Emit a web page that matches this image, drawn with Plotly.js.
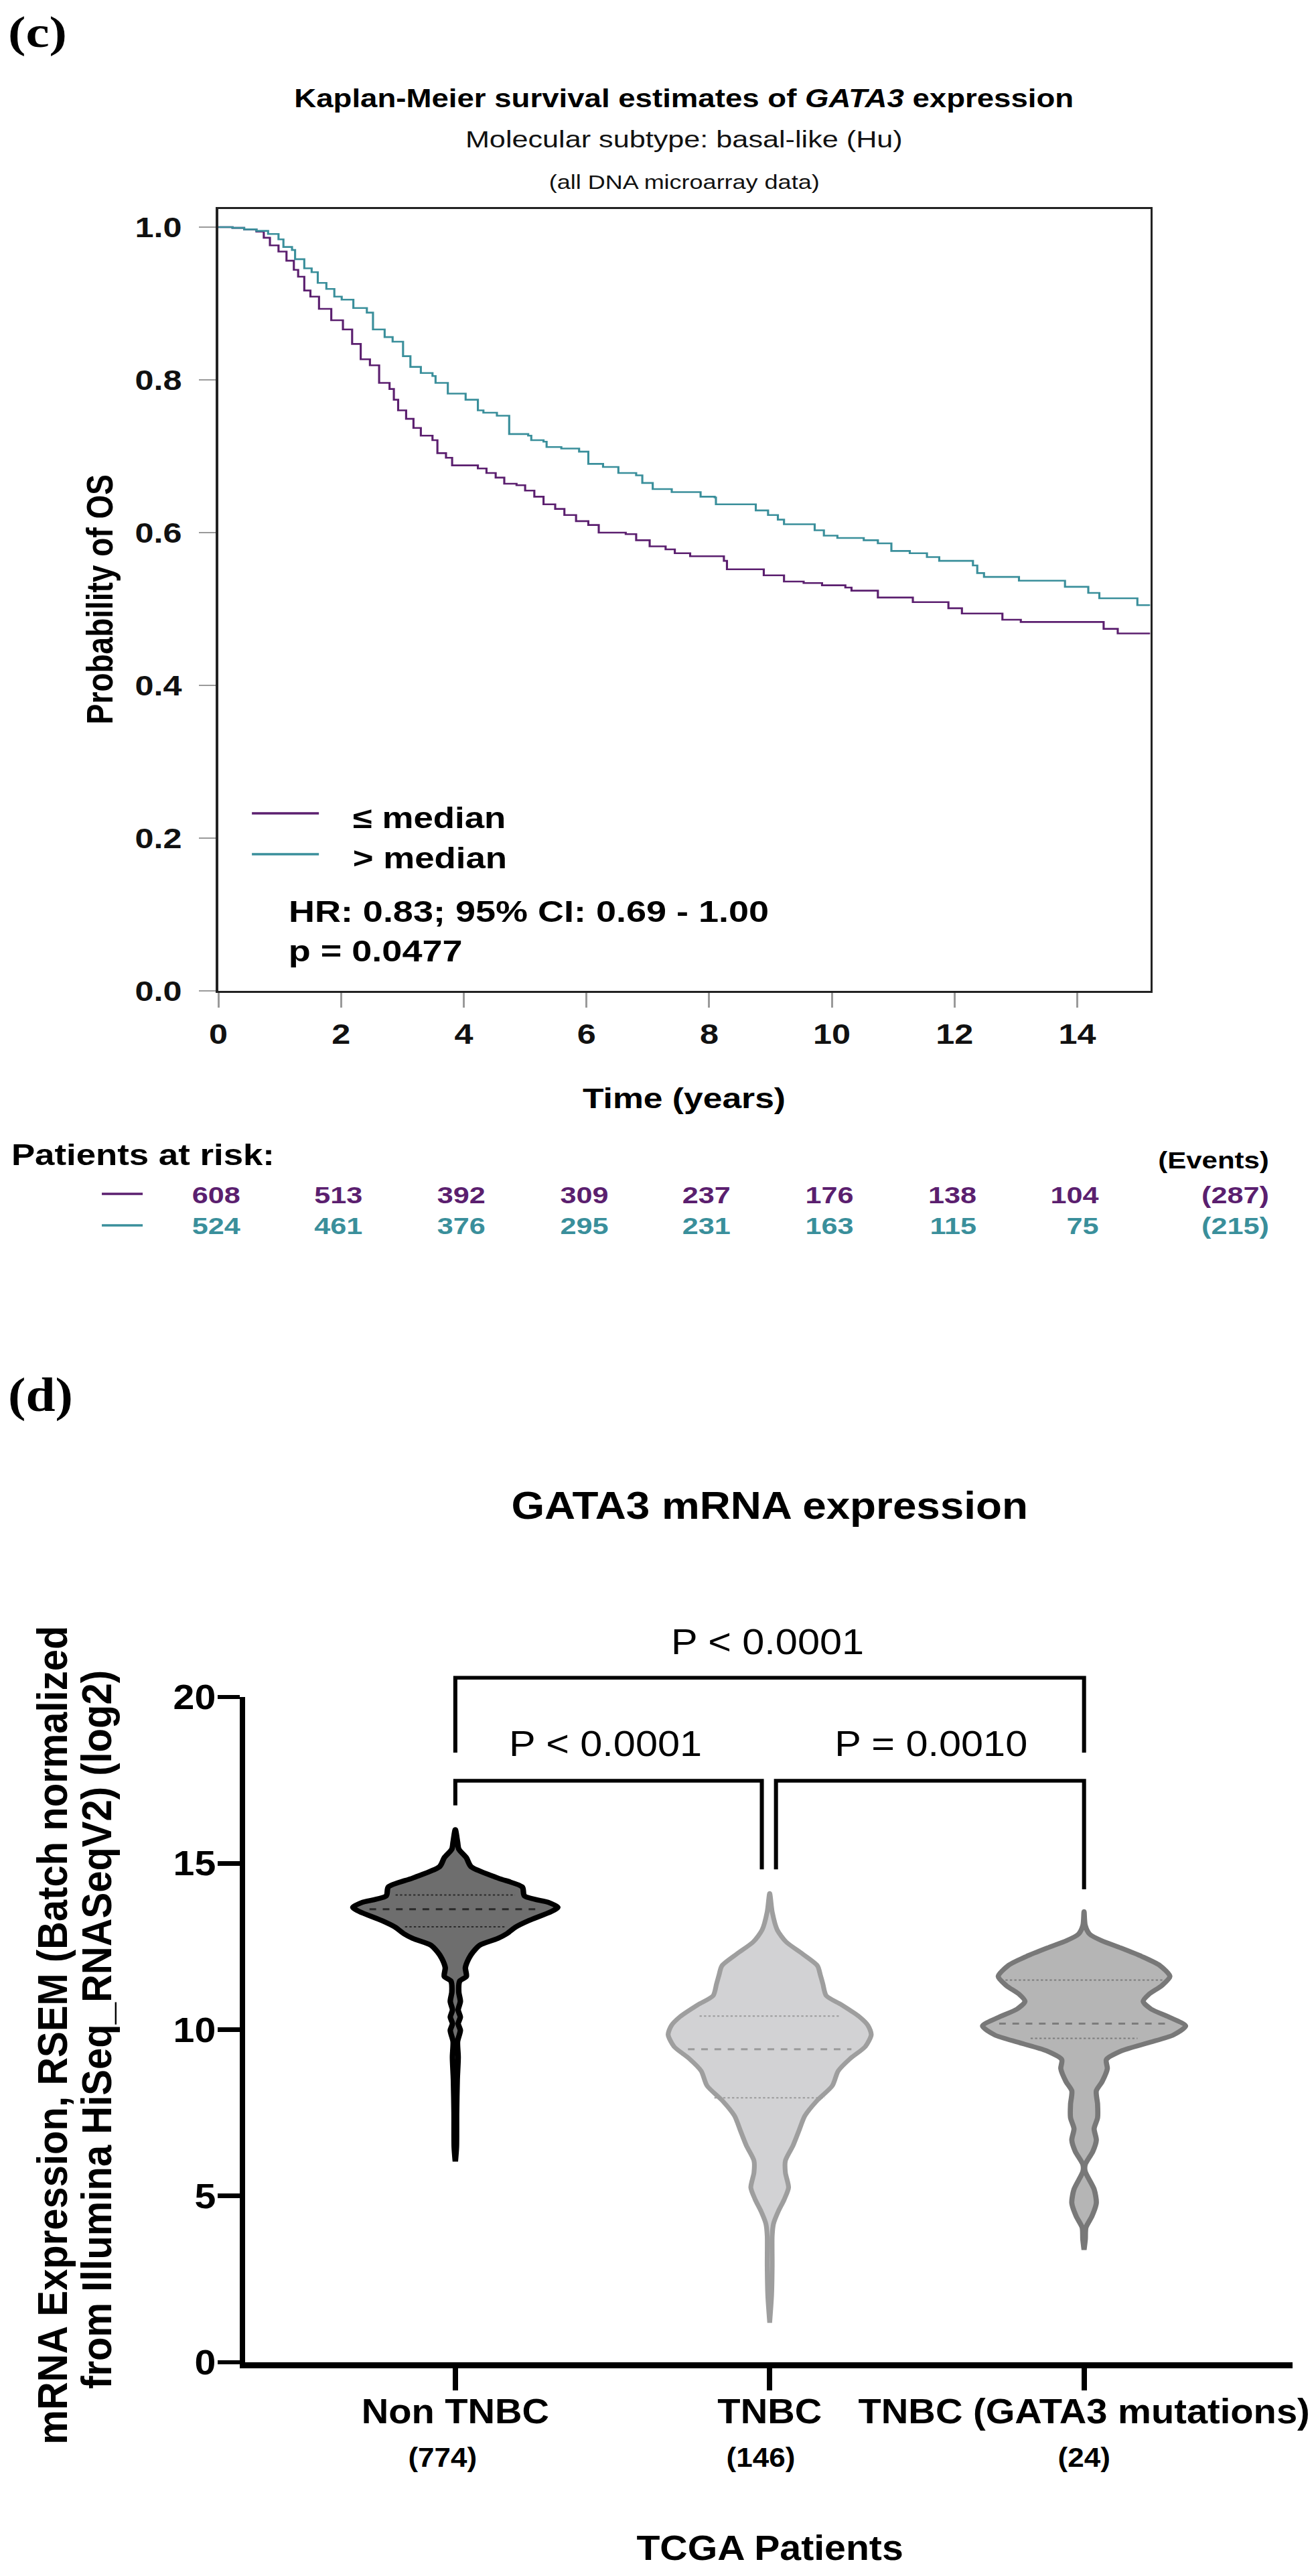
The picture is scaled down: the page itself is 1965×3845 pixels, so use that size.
<!DOCTYPE html>
<html><head><meta charset="utf-8">
<script src="https://cdn.plot.ly/plotly-3.0.1.min.js"></script>
<style>
html,body{margin:0;padding:0;background:#fff;overflow:hidden;width:1965px;height:3845px;position:relative;}
#km{position:absolute;left:0;top:0;width:1637.5px;height:1960px;transform:scale(1.2,1);transform-origin:0 0;}
#vio{position:absolute;left:0;top:1960px;width:1786.4px;height:1885px;transform:scale(1.1,1);transform-origin:0 0;}
</style></head>
<body><div id="km"></div><div id="vio"></div>
<script>
// ---------- Panel (c): Kaplan-Meier data ----------
const kmLowT = [0, 0.23, 0.42, 0.62, 0.74, 0.84, 0.98, 1.11, 1.23, 1.30, 1.40, 1.50, 1.64, 1.84, 2.03, 2.18, 2.32, 2.47, 2.62, 2.79, 2.86, 2.93, 3.06, 3.18, 3.30, 3.49, 3.57, 3.71, 3.81, 4.23, 4.37, 4.52, 4.66, 4.86, 5.00, 5.15, 5.30, 5.49, 5.64, 5.83, 6.03, 6.20, 6.64, 6.81, 7.03, 7.29, 7.44, 7.69, 8.24, 8.29, 8.89, 9.22, 9.54, 9.84, 10.22, 10.32, 10.75, 11.32, 11.90, 12.12, 12.78, 13.08, 14.43, 14.66, 15.19];
const kmLowS = [1.0, 0.999, 0.997, 0.994, 0.986, 0.976, 0.968, 0.956, 0.944, 0.935, 0.917, 0.909, 0.893, 0.878, 0.866, 0.847, 0.827, 0.819, 0.796, 0.788, 0.774, 0.760, 0.749, 0.737, 0.727, 0.721, 0.704, 0.698, 0.688, 0.684, 0.678, 0.672, 0.664, 0.662, 0.655, 0.647, 0.637, 0.631, 0.623, 0.615, 0.610, 0.600, 0.598, 0.590, 0.582, 0.578, 0.573, 0.569, 0.563, 0.552, 0.544, 0.536, 0.534, 0.531, 0.528, 0.524, 0.515, 0.509, 0.501, 0.494, 0.486, 0.483, 0.474, 0.468, 0.468];
const kmHighT = [0, 0.23, 0.42, 0.62, 0.81, 0.98, 1.06, 1.20, 1.25, 1.40, 1.52, 1.62, 1.76, 1.89, 2.01, 2.20, 2.42, 2.52, 2.71, 2.84, 3.01, 3.13, 3.30, 3.49, 3.54, 3.74, 4.03, 4.23, 4.32, 4.54, 4.74, 5.05, 5.10, 5.30, 5.35, 5.59, 5.88, 6.03, 6.27, 6.52, 6.81, 6.91, 7.08, 7.39, 7.86, 8.09, 8.11, 8.76, 8.96, 9.12, 9.22, 9.72, 9.87, 10.09, 10.52, 10.75, 10.97, 11.27, 11.55, 11.75, 12.30, 12.37, 12.48, 13.05, 13.80, 14.18, 14.36, 14.98, 15.19];
const kmHighS = [1.0, 0.999, 0.997, 0.995, 0.991, 0.984, 0.974, 0.970, 0.958, 0.946, 0.941, 0.927, 0.919, 0.909, 0.905, 0.894, 0.888, 0.866, 0.856, 0.850, 0.831, 0.817, 0.809, 0.805, 0.796, 0.782, 0.774, 0.760, 0.757, 0.753, 0.729, 0.727, 0.721, 0.719, 0.712, 0.710, 0.706, 0.690, 0.686, 0.678, 0.675, 0.665, 0.657, 0.653, 0.647, 0.646, 0.637, 0.629, 0.623, 0.617, 0.611, 0.603, 0.596, 0.593, 0.590, 0.586, 0.576, 0.573, 0.568, 0.563, 0.557, 0.547, 0.542, 0.537, 0.529, 0.521, 0.514, 0.505, 0.505];
const groupNames = ['\u2264 median', '> median'];
const kmTicks = [0, 2, 4, 6, 8, 10, 12, 14];
const kmYTicks = [0, 0.2, 0.4, 0.6, 0.8, 1.0];
const riskTimes = [0, 2, 4, 6, 8, 10, 12, 14];
const riskLow = [608, 513, 392, 309, 237, 176, 138, 104];
const riskHigh = [524, 461, 376, 295, 231, 163, 115, 75];
const eventsLow = 287;
const eventsHigh = 215;

// ---------- Panel (d): violin profiles (value, half-width) ----------
const categories = ['Non TNBC', 'TNBC', 'TNBC (GATA3 mutations)'];
const counts = [774, 146, 24];
const vYNon = [16.01, 15.64, 15.43, 15.17, 14.90, 14.56, 14.29, 14.02, 13.82, 13.68, 13.55, 13.28, 13.08, 12.88, 12.74, 12.54, 12.34, 12.14, 11.86, 11.60, 11.46, 11.13, 10.85, 10.59, 10.38, 10.18, 9.98, 9.64, 9.17, 8.50, 7.49, 6.48, 6.04];
const vWNon = [0, 0.007, 0.011, 0.035, 0.050, 0.135, 0.213, 0.220, 0.298, 0.326, 0.305, 0.234, 0.191, 0.163, 0.135, 0.078, 0.057, 0.043, 0.032, 0.035, 0.014, 0.011, 0.016, 0.009, 0.016, 0.009, 0.016, 0.007, 0.009, 0.006, 0.004, 0.0035, 0];
const vYTn = [14.10, 13.54, 13.00, 12.64, 12.28, 11.92, 11.65, 11.38, 11.02, 10.75, 10.39, 10.12, 9.85, 9.49, 9.13, 8.76, 8.31, 7.86, 7.41, 6.96, 6.51, 6.06, 5.70, 5.25, 4.89, 4.53, 4.16, 3.80, 2.90, 2.00, 1.19];
const vWTn = [0, 0.008, 0.024, 0.052, 0.104, 0.152, 0.161, 0.169, 0.180, 0.228, 0.285, 0.313, 0.323, 0.304, 0.256, 0.218, 0.199, 0.150, 0.112, 0.093, 0.074, 0.050, 0.050, 0.060, 0.046, 0.027, 0.012, 0.008, 0.008, 0.006, 0];
const vYG = [13.55, 13.14, 12.87, 12.67, 12.47, 12.20, 11.93, 11.60, 11.33, 11.06, 10.85, 10.62, 10.38, 10.11, 9.84, 9.61, 9.37, 9.10, 8.83, 8.43, 8.16, 7.76, 7.35, 7.02, 6.68, 6.34, 5.94, 5.74, 5.20, 4.79, 4.39, 4.05, 3.70, 3.38];
const vWG = [0, 0.0035, 0.018, 0.057, 0.113, 0.184, 0.241, 0.273, 0.248, 0.206, 0.188, 0.213, 0.270, 0.323, 0.284, 0.206, 0.121, 0.071, 0.074, 0.057, 0.039, 0.043, 0.043, 0.032, 0.039, 0.028, 0.0035, 0.0035, 0.032, 0.039, 0.025, 0.006, 0.004, 0];
// quartiles: [Q1, median, Q3] and drawn half-widths
const qNon = [13.09, 13.62, 14.05];  const qWNon = [0.16, 0.273, 0.19];
const qTn = [7.95, 9.41, 10.41];     const qWTn = [0.176, 0.26, 0.223];
const qG = [9.74, 10.18, 11.49];     const qWG = [0.17, 0.27, 0.25];
const violinTicks = [0, 5, 10, 15, 20];
const pLabels = ['P &lt; 0.0001', 'P &lt; 0.0001', 'P = 0.0010'];

// ---------- helpers ----------
const SANS = 'Liberation Sans, Arial, Helvetica, sans-serif';
const SERIF = 'Liberation Serif, Times New Roman, serif';
const PURPLE = '#5b1f6f', TEAL = '#3a8f9b';
const X = o => o / 1965;                 // horizontal paper fraction (both panels)
const Y = o => 1 - o / 1960;             // KM panel vertical
const Yv = o => 1 - (o - 1960) / 1885;   // violin panel vertical

function ann(text, x, y, size, o) {
  o = o || {};
  return Object.assign({
    text: text, x: x, y: y, xref: 'paper', yref: 'paper',
    xanchor: 'center', yanchor: 'middle', showarrow: false,
    font: {family: o.family || SANS, size: size, color: o.color || '#000', weight: o.weight || 'normal'}
  }, o.extra || {});
}

// ================= Panel (c) =================
const kmTraces = [
  {type: 'scatter', mode: 'lines', x: kmLowT, y: kmLowS, name: groupNames[0],
    line: {color: PURPLE, width: 2.6, shape: 'hv'}, showlegend: false, hoverinfo: 'skip'},
  {type: 'scatter', mode: 'lines', x: kmHighT, y: kmHighS, name: groupNames[1],
    line: {color: TEAL, width: 2.6, shape: 'hv'}, showlegend: false, hoverinfo: 'skip'}
];
const kmAnn = [
  ann('(c)', X(10), Y(48), 66, {family: SERIF, weight: 'bold', extra: {xanchor: 'left'}}),
  ann('Kaplan-Meier survival estimates of <i>GATA3</i> expression', X(1021), Y(147), 38, {weight: 'bold'}),
  ann('Molecular subtype: basal-like (Hu)', X(1021), Y(208), 36, {color: '#111'}),
  ann('(all DNA microarray data)', X(1021), Y(271), 30, {color: '#111'}),
  ann('Probability of OS', X(149), Y(895), 46, {weight: 'bold', extra: {textangle: -90}}),
  ann('Time (years)', X(1021), Y(1639), 43, {weight: 'bold'}),
  ann(groupNames[0], X(524), Y(1220), 44, {weight: 'bold', extra: {xanchor: 'left'}}),
  ann(groupNames[1].replace('>', '&gt;'), X(524), Y(1280), 44, {weight: 'bold', extra: {xanchor: 'left'}}),
  ann('HR: 0.83; 95% CI: 0.69 - 1.00', X(428), Y(1360), 45, {weight: 'bold', extra: {xanchor: 'left'}}),
  ann('p = 0.0477', X(428), Y(1419), 45, {weight: 'bold', extra: {xanchor: 'left'}}),
  ann('Patients at risk:', X(14), Y(1723), 44, {weight: 'bold', extra: {xanchor: 'left'}}),
  ann('(Events)', X(1897), Y(1731), 35, {weight: 'bold', extra: {xanchor: 'right'}}),
  ann('(' + eventsLow + ')', X(1897), Y(1783), 36, {weight: 'bold', color: PURPLE, extra: {xanchor: 'right'}}),
  ann('(' + eventsHigh + ')', X(1897), Y(1829), 36, {weight: 'bold', color: TEAL, extra: {xanchor: 'right'}})
];
riskTimes.forEach((t, i) => {
  kmAnn.push({text: String(riskLow[i]), x: t, xref: 'x', y: Y(1783), yref: 'paper', xanchor: 'right', xshift: 29,
    yanchor: 'middle', showarrow: false, font: {family: SANS, size: 36, weight: 'bold', color: PURPLE}});
  kmAnn.push({text: String(riskHigh[i]), x: t, xref: 'x', y: Y(1829), yref: 'paper', xanchor: 'right', xshift: 29,
    yanchor: 'middle', showarrow: false, font: {family: SANS, size: 36, weight: 'bold', color: TEAL}});
});
const kmShapes = [
  {type: 'line', xref: 'paper', yref: 'paper', x0: X(376), x1: X(476), y0: Y(1214), y1: Y(1214), line: {color: PURPLE, width: 3.5}},
  {type: 'line', xref: 'paper', yref: 'paper', x0: X(376), x1: X(476), y0: Y(1275), y1: Y(1275), line: {color: TEAL, width: 3.5}},
  {type: 'line', xref: 'paper', yref: 'paper', x0: X(152), x1: X(213), y0: Y(1782), y1: Y(1782), line: {color: PURPLE, width: 3.5}},
  {type: 'line', xref: 'paper', yref: 'paper', x0: X(152), x1: X(213), y0: Y(1829), y1: Y(1829), line: {color: TEAL, width: 3.5}}
];
const tickFontKM = {family: SANS, size: 42, weight: 'bold', color: '#111'};
const kmLayout = {
  width: 1637.5, height: 1960, margin: {l: 0, r: 0, t: 0, b: 0},
  paper_bgcolor: '#fff', plot_bgcolor: 'rgba(0,0,0,0)', showlegend: false,
  xaxis: {domain: [X(326), X(1717)], range: [0, 15.19], tickvals: kmTicks,
    ticks: 'outside', ticklen: 22, tickwidth: 2.5, tickcolor: '#9a9a9a',
    showline: true, mirror: true, linecolor: '#222', linewidth: 3,
    showgrid: false, zeroline: false, tickfont: tickFontKM, ticklabelstandoff: 4, fixedrange: true},
  yaxis: {domain: [Y(1479), Y(311.6)], range: [0, 1.024], tickvals: kmYTicks, tickformat: '.1f',
    ticks: 'outside', ticklen: 21, tickwidth: 2.5, tickcolor: '#9a9a9a',
    showline: true, mirror: true, linecolor: '#222', linewidth: 3,
    showgrid: false, zeroline: false, tickfont: tickFontKM, ticklabelstandoff: 13, fixedrange: true},
  annotations: kmAnn, shapes: kmShapes
};
Plotly.newPlot('km', kmTraces, kmLayout, {staticPlot: true, displayModeBar: false});

// ================= Panel (d) =================
const xd2 = [X(366), X(1930)], xr2 = [-0.6688, 2.6624];
const yd2 = [Yv(3526), Yv(2533)], yr2 = [0, 20];
const xp = c => xd2[0] + (c - xr2[0]) / (xr2[1] - xr2[0]) * (xd2[1] - xd2[0]);
const yp = v => yd2[0] + (v - yr2[0]) / (yr2[1] - yr2[0]) * (yd2[1] - yd2[0]);

function violin(center, ys, ws, fill, lc, lw, name) {
  const x = [], y = [];
  for (let i = 0; i < ys.length; i++) { x.push(center + ws[i]); y.push(ys[i]); }
  for (let i = ys.length - 1; i >= 0; i--) { x.push(center - ws[i]); y.push(ys[i]); }
  return {type: 'scatter', mode: 'lines', x: x, y: y, name: name,
    fill: 'toself', fillcolor: fill, line: {color: lc, width: lw, shape: 'spline', smoothing: 0.7},
    showlegend: false, hoverinfo: 'skip'};
}
function quartiles(center, qs, qw, color) {
  return qs.map((q, i) => ({type: 'scatter', mode: 'lines', x: [center - qw[i], center + qw[i]], y: [q, q],
    line: {color: color, width: i === 1 ? 3 : 2, dash: i === 1 ? 'dash' : 'dot'},
    showlegend: false, hoverinfo: 'skip'}));
}
const vTraces = [];
vTraces.push(violin(0, vYNon, vWNon, '#6e6e6e', '#000000', 7.5, categories[0]));
vTraces.push(...quartiles(0, qNon, qWNon, '#2a2a2a'));
vTraces.push(violin(1, vYTn, vWTn, '#d2d2d4', '#9e9e9e', 6.5, categories[1]));
vTraces.push(...quartiles(1, qTn, qWTn, '#9b9b9b'));
vTraces.push(violin(2, vYG, vWG, '#b5b5b5', '#787878', 7, categories[2]));
vTraces.push(...quartiles(2, qG, qWG, '#7c7c7c'));

const vAnn = [
  ann('(d)', X(10), Yv(2082), 72, {family: SERIF, weight: 'bold', extra: {xanchor: 'left'}}),
  ann('GATA3 mRNA expression', X(1150), Yv(2247), 58, {weight: 'bold'}),
  {text: pLabels[0], x: 0.993, xref: 'x', y: Yv(2450), yref: 'paper', showarrow: false, xanchor: 'center', yanchor: 'middle',
    font: {family: SANS, size: 54, color: '#000'}},
  {text: pLabels[1], x: 0.479, xref: 'x', y: Yv(2602), yref: 'paper', showarrow: false, xanchor: 'center', yanchor: 'middle',
    font: {family: SANS, size: 54, color: '#000'}},
  {text: pLabels[2], x: 1.514, xref: 'x', y: Yv(2602), yref: 'paper', showarrow: false, xanchor: 'center', yanchor: 'middle',
    font: {family: SANS, size: 54, color: '#000'}},
  ann('mRNA Expression, RSEM (Batch normalized', X(77), Yv(3037), 58, {weight: 'bold', extra: {textangle: -90}}),
  ann('from Illumina HiSeq_RNASeqV2) (log2)', X(143), Yv(3029), 58, {weight: 'bold', extra: {textangle: -90}}),
  ann('TCGA Patients', X(1150), Yv(3803), 52, {weight: 'bold'})
];
const countShift = [-18, -12, 0];
counts.forEach((n, i) => {
  vAnn.push({text: '(' + n + ')', x: i, xref: 'x', y: Yv(3668), yref: 'paper', xanchor: 'center', xshift: countShift[i],
    yanchor: 'middle', showarrow: false, font: {family: SANS, size: 40, weight: 'bold', color: '#000'}});
});

const P = pts => 'M ' + pts.map(p => p[0] + ',' + p[1]).join(' L ');
const brk = {color: '#000', width: 5.5};
const vShapes = [
  {type: 'path', xref: 'paper', yref: 'paper', line: brk,
    path: P([[xp(0), yp(18.33)], [xp(0), yp(20.58)], [xp(2), yp(20.58)], [xp(2), yp(18.33)]])},
  {type: 'path', xref: 'paper', yref: 'paper', line: brk,
    path: P([[xp(0), yp(16.74)], [xp(0), yp(17.48)], [xp(0.975), yp(17.48)], [xp(0.975), yp(14.82)]])},
  {type: 'path', xref: 'paper', yref: 'paper', line: brk,
    path: P([[xp(1.02), yp(14.82)], [xp(1.02), yp(17.48)], [xp(2), yp(17.48)], [xp(2), yp(14.22)]])}
];
const tickFontV = {family: SANS, size: 52, weight: 'bold', color: '#000'};
const vLayout = {
  width: 1786.4, height: 1885, margin: {l: 0, r: 0, t: 0, b: 0},
  paper_bgcolor: 'rgba(0,0,0,0)', plot_bgcolor: 'rgba(0,0,0,0)', showlegend: false,
  xaxis: {domain: xd2, range: xr2, tickvals: [0, 1, 2], ticktext: categories,
    ticks: 'outside', ticklen: 33, tickwidth: 7.3, tickcolor: '#000',
    showline: true, linecolor: '#000', linewidth: 9,
    showgrid: false, zeroline: false, tickfont: {family: SANS, size: 51, weight: 'bold', color: '#000'},
    ticklabelstandoff: -12, fixedrange: true},
  yaxis: {domain: yd2, range: yr2, tickvals: violinTicks,
    ticks: 'outside', ticklen: 30, tickwidth: 6.6, tickcolor: '#000',
    showline: true, linecolor: '#000', linewidth: 7.3,
    showgrid: false, zeroline: false, tickfont: tickFontV, ticklabelstandoff: -8, fixedrange: true},
  annotations: vAnn, shapes: vShapes
};
Plotly.newPlot('vio', vTraces, vLayout, {staticPlot: true, displayModeBar: false});
</script></body></html>
